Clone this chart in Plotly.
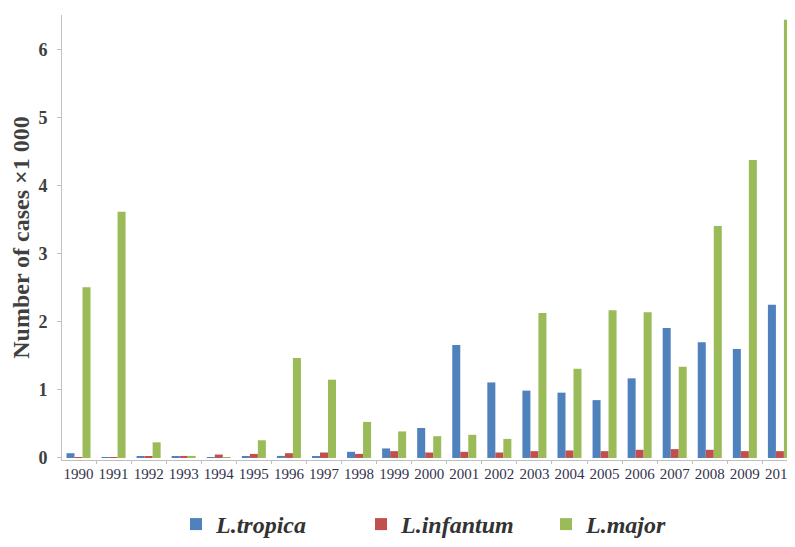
import plotly.graph_objects as go

years = [str(y) for y in range(1990, 2011)]
tropica = [0.07, 0.01, 0.02, 0.02, 0.01, 0.02, 0.03, 0.02, 0.09, 0.14, 0.44, 1.66, 1.11, 0.99, 0.96, 0.85, 1.17, 1.91, 1.70, 1.60, 2.25]
infantum = [0.01, 0.01, 0.02, 0.03, 0.05, 0.06, 0.07, 0.08, 0.06, 0.10, 0.08, 0.09, 0.08, 0.10, 0.11, 0.10, 0.12, 0.13, 0.12, 0.10, 0.10]
major = [2.51, 3.62, 0.23, 0.03, 0.01, 0.26, 1.47, 1.15, 0.53, 0.39, 0.32, 0.34, 0.28, 2.13, 1.31, 2.17, 2.14, 1.34, 3.41, 4.38, 6.44]

names = ["L.tropica", "L.infantum", "L.major"]
colors = ["#4F81BD", "#C0504D", "#9BBB59"]

fig = go.Figure()
for name, vals, col in zip(names, [tropica, infantum, major], colors):
    fig.add_trace(go.Bar(x=years, y=vals, name=name, marker_color=col, marker_line_width=0))

fig.update_layout(
    width=787, height=539,
    margin=dict(l=54, r=0, t=7, b=77),
    paper_bgcolor="white", plot_bgcolor="white",
    barmode="group", bargap=0.315, bargroupgap=0,
    font=dict(family="Liberation Serif", color="#404040"),
    showlegend=True,
    legend=dict(orientation="h", x=(168 - 54) / 733, xanchor="left", y=-0.145, yanchor="middle",
                entrywidth=140, entrywidthmode="pixels",
                font=dict(size=24, family="Liberation Serif", color="#333333", style="italic", weight="bold")),
    xaxis=dict(type="category", range=[-0.47, 20.43], showline=True, linecolor="#BFBFBF", linewidth=1,
               ticks="outside", ticklen=3, tickcolor="#BFBFBF", tickson="boundaries", automargin=False,
               tickfont=dict(size=15, color="#33334d"), tickangle=0, showgrid=False),
    yaxis=dict(range=[-0.03, 6.51], tickvals=[0, 1, 2, 3, 4, 5, 6], showline=True, linecolor="#BFBFBF",
               linewidth=1, ticks="outside", ticklen=4, tickcolor="#BFBFBF", showgrid=False, zeroline=False,
               automargin=False, ticklabelstandoff=6,
               tickfont=dict(size=18, color="#404040", weight="bold"),
               title=dict(text="Number of cases ×1 000", font=dict(size=24, color="#404040", weight="bold"), standoff=6)),
)

fig.write_html("out.html")
